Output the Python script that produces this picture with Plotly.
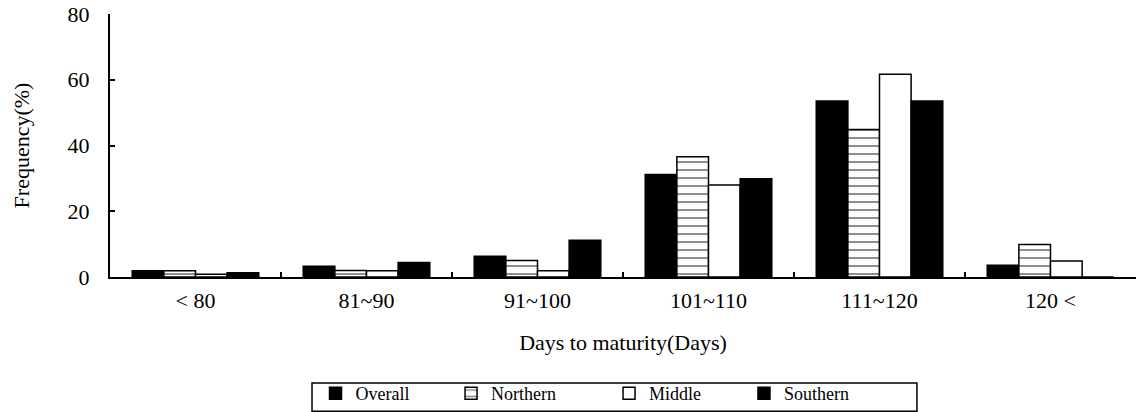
import plotly.graph_objects as go

categories = ["< 80", "81~90", "91~100", "101~110", "111~120", "120 <"]
overall = [1.9, 3.3, 6.3, 31.2, 53.5, 3.6]
northern = [1.9, 2.0, 5.0, 36.6, 44.9, 9.9]
middle = [0.8, 1.9, 1.9, 28.0, 61.7, 4.9]
southern = [1.3, 4.4, 11.2, 29.9, 53.5, 0.0]
y_ticks = [0, 20, 40, 60, 80]

FONT = "Liberation Serif, Times New Roman, serif"

fig = go.Figure()
fig.add_bar(name="Overall", x=categories, y=overall, legend="legend",
            marker=dict(color="black", line=dict(color="black", width=1.5)))
fig.add_bar(name="Northern", x=categories, y=northern, legend="legend2",
            marker=dict(color="white", line=dict(color="black", width=1.5),
                        pattern=dict(shape="-", fgcolor="black", bgcolor="white",
                                     size=8, solidity=0.22, fillmode="overlay")))
fig.add_bar(name="Middle", x=categories, y=middle, legend="legend3",
            marker=dict(color="white", line=dict(color="black", width=1.5)))
fig.add_bar(name="Southern", x=categories, y=southern, legend="legend4",
            marker=dict(color="black", line=dict(color="black", width=1.5)))

# legend frame drawn as a shape around the four single-entry legends
fig.add_shape(type="rect", xref="paper", yref="paper",
              x0=0.1969, x1=0.7865, y0=-0.51, y1=-0.403,
              line=dict(color="black", width=1.5), fillcolor="rgba(0,0,0,0)")


def legend_at(x):
    return dict(orientation="h", x=x, xanchor="left", y=-0.3726, yanchor="top",
                borderwidth=0, bgcolor="rgba(0,0,0,0)",
                font=dict(family=FONT, size=18, color="black"))


fig.update_layout(
    width=1136, height=412,
    margin=dict(l=110, r=0, t=14, b=135, autoexpand=False),
    paper_bgcolor="white", plot_bgcolor="white",
    barmode="group", bargap=0.26, bargroupgap=0,
    font=dict(family=FONT, size=22, color="black"),
    showlegend=True,
    legend=legend_at(0.2003),
    legend2=legend_at(0.3324),
    legend3=legend_at(0.4864),
    legend4=legend_at(0.6179),
)
fig.update_xaxes(
    type="category", range=[-0.5, 5.5],
    showline=True, linecolor="black", linewidth=2,
    ticks="inside", tickson="boundaries", ticklen=5, tickcolor="black", tickwidth=1.5,
    showgrid=False, zeroline=False,
    ticklabelstandoff=3,
    title=dict(text="Days to maturity(Days)", standoff=22, font=dict(size=22)),
    automargin=False,
)
fig.update_yaxes(
    range=[0, 80], tickvals=y_ticks,
    showline=True, linecolor="black", linewidth=2,
    ticks="inside", ticklen=5, tickcolor="black", tickwidth=1.5,
    showgrid=False, zeroline=False,
    ticklabelstandoff=14, ticklabeloverflow="allow",
    title=dict(text="Frequency(%)", standoff=32, font=dict(size=22)),
    automargin=False,
)

fig.write_html("out.html",
               config={"displayModeBar": False},
               post_script="document.body.style.margin='0';document.body.style.overflow='hidden';")
